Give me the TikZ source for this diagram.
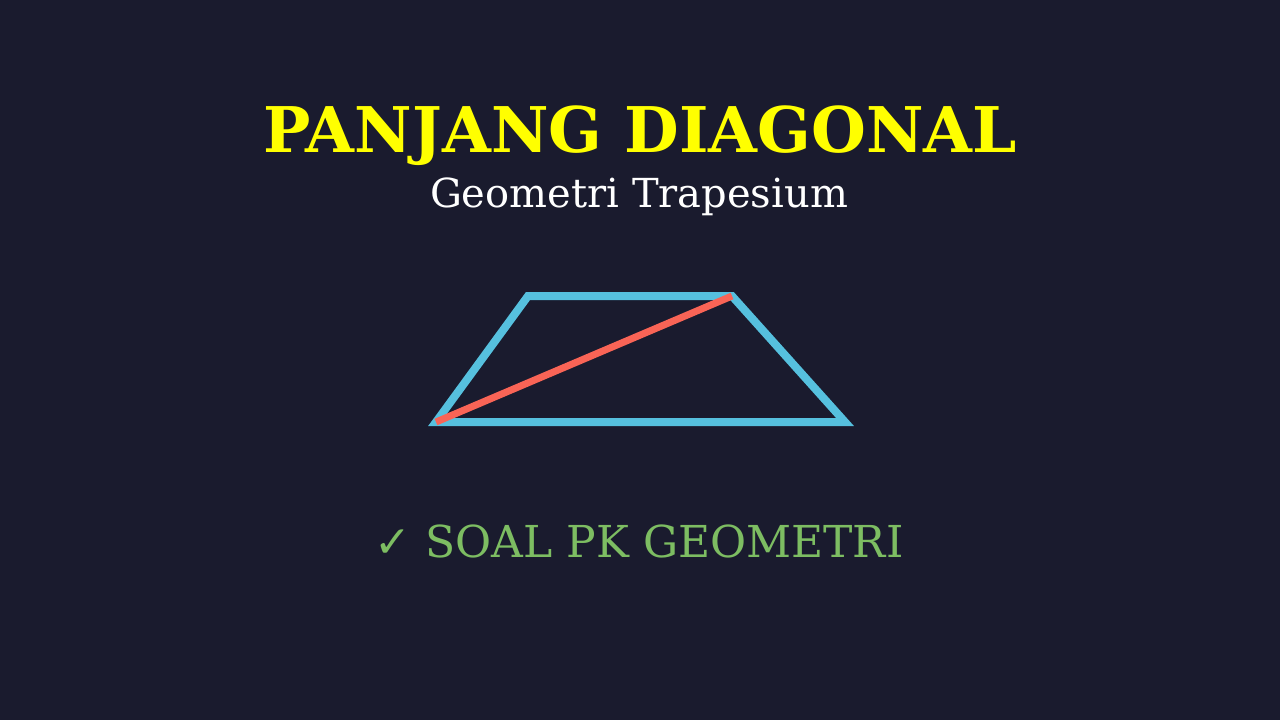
\documentclass[tikz,border=0pt]{standalone}
\usepackage{fontspec}
\setmainfont{DejaVu Serif}
\newfontfamily\checkfont{DejaVu Sans}
\definecolor{bgnavy}{HTML}{1A1B2E}
\definecolor{titleyellow}{HTML}{FFFF00}
\definecolor{edgecyan}{HTML}{56C0DE}
\definecolor{diagred}{HTML}{F96456}
\definecolor{tagreen}{HTML}{7DBD62}
\tikzset{every picture/.style={line width=0.75pt}}
\tikzset{
  sideline/.style={draw=edgecyan, line width=8pt, line join=miter},
  diagline/.style={draw=diagred, line width=7pt},
}

\begin{document}
\begin{tikzpicture}[x=1pt,y=1pt,yscale=-1,xscale=1]
%background, sets the frame at 1280 x 720
\fill[bgnavy] (0,0) rectangle (1280,720);
\useasboundingbox (0,0) rectangle (1280,720);

%Trapezium corners
\coordinate (bl) at (436,422);
\coordinate (br) at (845,422);
\coordinate (tr) at (732,296);
\coordinate (tl) at (528,296);

%Shape: Trapezium
\draw[sideline] (bl) -- (br) -- (tr) -- (tl) -- cycle;
%Straight Lines: diagonal
\draw[diagline] (bl) -- (tr);

% Text Node
\node[anchor=base, text=titleyellow, font=\fontsize{63}{63}\selectfont\bfseries] (title) at (640,152) {PANJANG DIAGONAL};
% Text Node
\node[anchor=base, text=white, font=\fontsize{40}{40}\selectfont] (subtitle) at (639,207) {Geometri Trapesium};
% Text Node
\node[anchor=base, text=tagreen, font=\fontsize{44}{44}\selectfont] (tag) at (639,557) {{\checkfont ✓} SOAL PK GEOMETRI};

\end{tikzpicture}
\end{document}
